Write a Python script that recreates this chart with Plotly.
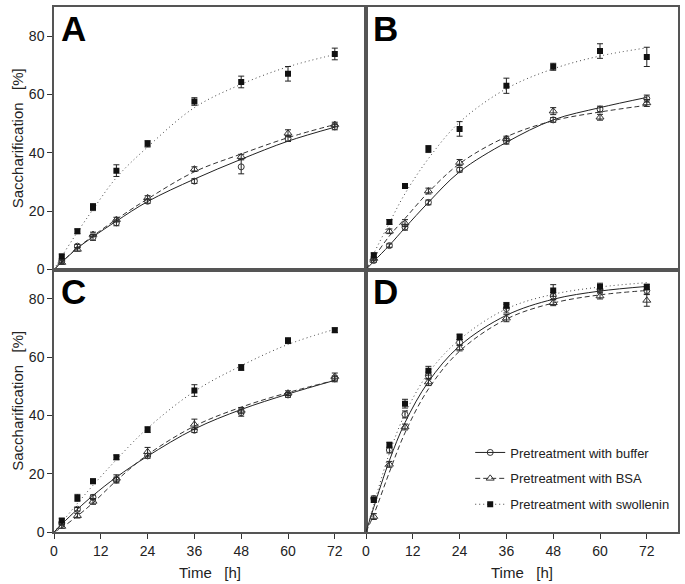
import plotly.graph_objects as go
from plotly.subplots import make_subplots

times = [2, 6, 10, 16, 24, 36, 48, 60, 72]
fit_times = [0, 2, 6, 10, 16, 24, 36, 48, 60, 72]
x_ticks = [0, 12, 24, 36, 48, 60, 72]
y_ticks = [0, 20, 40, 60, 80]
panel_labels = ["A", "B", "C", "D"]
series_names = ["Pretreatment with buffer", "Pretreatment with BSA", "Pretreatment with swollenin"]

# Panel A
buffer_A = [2.9, 8.0, 11.0, 16.0, 23.4, 30.3, 35.2, 44.9, 48.9]
buffer_A_err = [0.6, 0.6, 1.0, 1.0, 0.7, 0.8, 2.4, 1.0, 1.0]
bsa_A = [2.4, 6.9, 12.0, 17.1, 24.6, 34.4, 38.7, 46.7, 49.7]
bsa_A_err = [0.6, 0.6, 0.8, 0.8, 0.7, 0.8, 0.8, 1.2, 0.8]
swo_A = [4.5, 13.1, 21.4, 33.9, 43.1, 57.6, 64.3, 67.1, 73.9]
swo_A_err = [0.8, 0.8, 1.2, 2.0, 1.1, 1.3, 2.0, 2.5, 2.0]
fit_buffer_A = [0, 2.5, 7.3, 11.2, 16.6, 23.3, 31.0, 37.8, 44.0, 48.8]
fit_bsa_A = [0, 2.6, 7.4, 11.5, 17.2, 24.2, 33.5, 39.6, 45.2, 49.7]
fit_swo_A = [0, 4.5, 12.8, 20.6, 31.5, 42.0, 55.5, 63.5, 69.5, 73.7]

# Panel B
buffer_B = [3.1, 8.2, 14.5, 23.0, 34.2, 44.0, 51.3, 55.0, 58.6]
buffer_B_err = [0.6, 0.6, 1.0, 0.8, 0.8, 1.0, 0.8, 1.0, 1.2]
bsa_B = [3.8, 13.1, 15.9, 26.9, 36.7, 44.9, 54.3, 52.2, 57.1]
bsa_B_err = [0.6, 0.8, 1.2, 1.0, 1.0, 0.8, 1.2, 1.0, 1.2]
swo_B = [4.9, 16.3, 28.6, 41.3, 48.2, 63.0, 69.5, 74.9, 72.9]
swo_B_err = [0.8, 0.8, 0.8, 1.2, 2.5, 2.6, 1.2, 2.5, 3.3]
fit_buffer_B = [0, 2.8, 8.3, 14.3, 23.0, 33.5, 43.6, 51.3, 55.5, 59.0]
fit_bsa_B = [0, 4.0, 11.5, 17.5, 26.5, 36.3, 45.5, 51.0, 54.0, 56.3]
fit_swo_B = [0, 5.5, 16.0, 26.0, 38.0, 50.5, 62.0, 68.8, 73.2, 76.0]

# Panel C
buffer_C = [3.1, 7.8, 11.9, 17.8, 26.1, 34.9, 40.9, 47.0, 52.5]
buffer_C_err = [0.5, 0.6, 0.8, 1.0, 0.8, 0.8, 1.2, 0.8, 1.0]
bsa_C = [1.9, 5.6, 10.5, 18.4, 27.5, 36.9, 41.7, 47.6, 53.3]
bsa_C_err = [0.6, 0.8, 1.0, 1.2, 1.5, 1.8, 1.0, 0.8, 1.2]
swo_C = [3.9, 11.7, 17.4, 25.6, 35.1, 48.5, 56.4, 65.6, 69.2]
swo_C_err = [0.8, 1.2, 0.8, 0.8, 1.0, 2.0, 1.0, 1.0, 0.8]
fit_buffer_C = [0, 2.7, 7.8, 12.5, 18.8, 26.0, 35.3, 42.0, 47.3, 52.0]
fit_bsa_C = [0, 1.5, 5.5, 10.0, 17.6, 26.5, 36.3, 42.8, 47.8, 52.0]
fit_swo_C = [0, 3.3, 9.8, 16.0, 24.8, 35.6, 48.2, 57.0, 64.3, 69.5]

# Panel D
buffer_D = [11.5, 28.1, 40.3, 53.6, 65.0, 76.6, 80.9, 83.2, 82.8]
buffer_D_err = [0.8, 1.0, 1.2, 1.2, 1.0, 1.5, 1.2, 1.0, 1.2]
bsa_D = [5.3, 23.2, 36.0, 51.4, 63.1, 73.3, 78.6, 80.9, 79.4]
bsa_D_err = [1.0, 1.0, 1.0, 1.2, 1.0, 1.2, 1.0, 1.0, 2.0]
swo_D = [11.0, 29.8, 44.0, 55.3, 66.9, 77.7, 82.8, 84.1, 84.0]
swo_D_err = [0.8, 1.0, 1.5, 1.5, 1.0, 1.0, 2.0, 1.2, 1.0]
fit_buffer_D = [0, 8.5, 24.5, 37.5, 51.5, 63.8, 74.3, 79.8, 82.6, 84.2]
fit_bsa_D = [0, 6.0, 20.5, 34.0, 49.0, 62.0, 73.0, 78.5, 81.3, 82.8]
fit_swo_D = [0, 9.5, 27.0, 40.5, 54.5, 66.0, 76.5, 81.5, 84.0, 85.5]

panels = [
    (1, 1, [buffer_A, bsa_A, swo_A], [buffer_A_err, bsa_A_err, swo_A_err], [fit_buffer_A, fit_bsa_A, fit_swo_A]),
    (1, 2, [buffer_B, bsa_B, swo_B], [buffer_B_err, bsa_B_err, swo_B_err], [fit_buffer_B, fit_bsa_B, fit_swo_B]),
    (2, 1, [buffer_C, bsa_C, swo_C], [buffer_C_err, bsa_C_err, swo_C_err], [fit_buffer_C, fit_bsa_C, fit_swo_C]),
    (2, 2, [buffer_D, bsa_D, swo_D], [buffer_D_err, bsa_D_err, swo_D_err], [fit_buffer_D, fit_bsa_D, fit_swo_D]),
]

dashes = ["solid", "5px,3px", "1px,3px"]
markers = [
    dict(symbol="circle-open", size=6, color="#333", line=dict(width=1, color="#333")),
    dict(symbol="triangle-up-open", size=7, color="#333", line=dict(width=1, color="#333")),
    dict(symbol="square", size=6, color="#111", line=dict(width=0)),
]
line_colors = ["#222", "#333", "#444"]

fig = make_subplots(rows=2, cols=2, horizontal_spacing=0, vertical_spacing=0)

for pi, (r, c, vals, errs, fits) in enumerate(panels):
    for si in range(3):
        fig.add_trace(go.Scatter(
            x=fit_times, y=fits[si], mode="lines", line_shape="spline",
            line=dict(color=line_colors[si], width=1, dash=dashes[si]),
            showlegend=False, hoverinfo="skip"), row=r, col=c)
    for si in range(3):
        fig.add_trace(go.Scatter(
            x=times, y=vals[si], mode="markers",
            marker=markers[si],
            error_y=dict(type="data", array=errs[si], color="#222", thickness=1, width=3),
            showlegend=False), row=r, col=c)

# legend-only entries (line + marker samples)
for si in range(3):
    fig.add_trace(go.Scatter(
        x=[None], y=[None], mode="lines+markers", name=series_names[si],
        line=dict(color=line_colors[si], width=1, dash=dashes[si]),
        marker=markers[si], legendgroup=str(si), showlegend=True), row=2, col=2)

axis_font = dict(family="Arial, Liberation Sans, sans-serif", size=14, color="#222")
for r in (1, 2):
    for c in (1, 2):
        fig.update_xaxes(range=[0, 80], showline=True, mirror=True, linecolor="#555", linewidth=1.5,
                         showgrid=False, zeroline=False, tickvals=x_ticks,
                         ticks="outside" if r == 2 else "", ticklen=5, tickcolor="#333",
                         showticklabels=(r == 2), tickfont=axis_font, row=r, col=c)
        fig.update_yaxes(range=[0, 90], showline=True, mirror=True, linecolor="#555", linewidth=1.5,
                         showgrid=False, zeroline=False, tickvals=y_ticks,
                         ticks="outside" if c == 1 else "", ticklen=5, tickcolor="#333",
                         showticklabels=(c == 1), tickfont=axis_font, row=r, col=c)

title_font = dict(family="Arial, Liberation Sans, sans-serif", size=15, color="#222")
for r in (1, 2):
    fig.update_yaxes(title_text="Saccharification\u00a0\u00a0\u00a0[%]", title_font=title_font,
                     title_standoff=2, row=r, col=1)
for c in (1, 2):
    fig.update_xaxes(title_text="Time\u00a0\u00a0\u00a0[h]", title_font=title_font,
                     title_standoff=10, row=2, col=c)

axis_refs = [("x", "y"), ("x2", "y2"), ("x3", "y3"), ("x4", "y4")]
for (xr, yr), lab in zip(axis_refs, panel_labels):
    fig.add_annotation(text="<b>" + lab + "</b>", xref=xr + " domain", yref=yr + " domain",
                       x=0.015, y=1.0, xanchor="left", yanchor="top", showarrow=False,
                       font=dict(family="Arial, Liberation Sans, sans-serif", size=35, color="#000"))

fig.update_layout(
    width=685, height=584,
    margin=dict(l=54, r=7, t=5, b=52),
    paper_bgcolor="white", plot_bgcolor="white",
    showlegend=True,
    legend=dict(x=0.667, y=0.18, xanchor="left", yanchor="top", bgcolor="rgba(0,0,0,0)",
                font=dict(family="Arial, Liberation Sans, sans-serif", size=13, color="#222"),
                tracegroupgap=6, itemwidth=30),
)

fig.write_html("out.html", config={"displayModeBar": False},
               post_script="document.body.style.margin='0';document.body.style.overflow='hidden';")
